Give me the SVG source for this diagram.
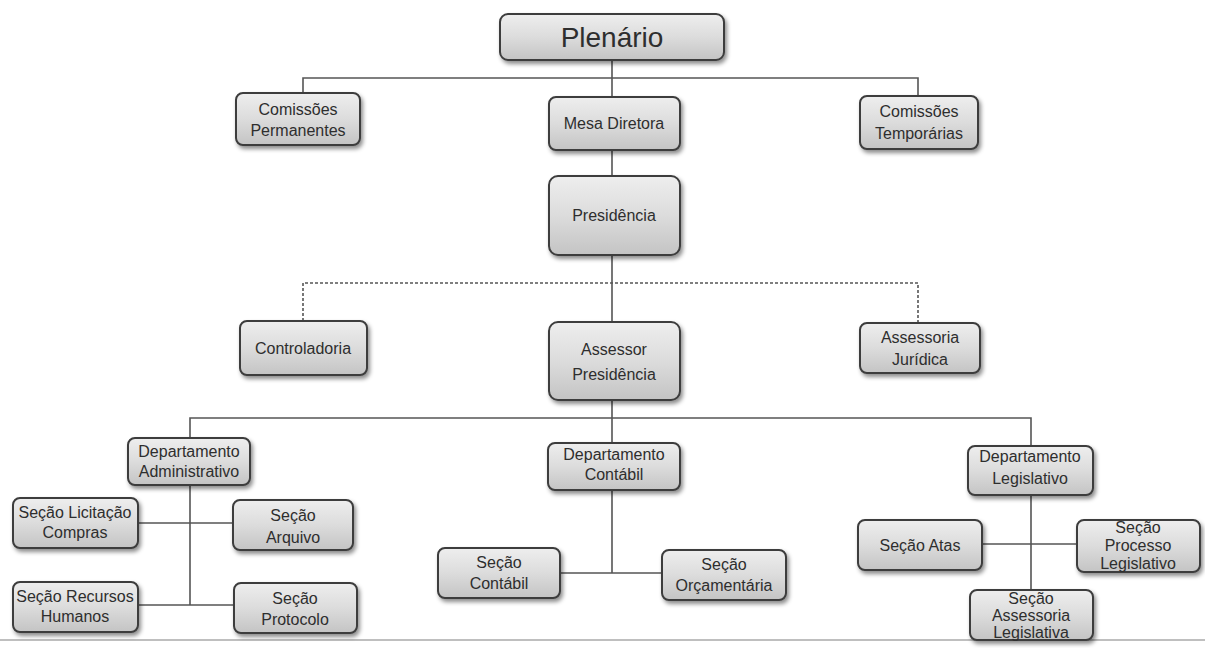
<svg xmlns="http://www.w3.org/2000/svg" width="1205" height="648" viewBox="0 0 1205 648">
<defs>
<linearGradient id="g" x1="0" y1="0" x2="0" y2="1">
<stop offset="0" stop-color="#eeeeee"/>
<stop offset="0.5" stop-color="#dcdcdc"/>
<stop offset="1" stop-color="#c4c4c4"/>
</linearGradient>
<filter id="sh" x="-10%" y="-10%" width="130%" height="140%">
<feDropShadow dx="2" dy="3" stdDeviation="2" flood-color="#000" flood-opacity="0.45"/>
</filter>
</defs>
<style>
.box{fill:url(#g);stroke:#3c3c3c;stroke-width:2;filter:url(#sh)}
.t{font-family:"Liberation Sans",Arial,sans-serif;font-size:16px;fill:#2e2e2e;text-anchor:middle}
.big{font-size:28px}
.c{fill:none;stroke:#555;stroke-width:1.6}
.d{fill:none;stroke:#555;stroke-width:1.6;stroke-dasharray:3 2}
</style>
<rect width="1205" height="648" fill="#ffffff"/>
<line x1="0" y1="640" x2="1205" y2="640" stroke="#aaa" stroke-width="1.5"/>
<g id="connectors">
<path class="c" d="M612 60V97M303 93V78H918V96"/>
<path class="c" d="M612 150V176M612 255V322"/>
<path class="d" d="M303 321V283H918V323"/>
<path class="c" d="M612 400V418M190 438V418H1031V446M612 418V443"/>
<path class="c" d="M190 485V605M138 523H233M138 605H234"/>
<path class="c" d="M612 490V573M560 573H662"/>
<path class="c" d="M1031 495V590M982 544H1077"/>
</g>
<g id="plenario"><rect class="box" x="500" y="14" width="224" height="46" rx="8"/><text class="t big" x="612" y="47">Plenário</text></g>
<g id="comissoes-permanentes"><rect class="box" x="236" y="93" width="124" height="52" rx="7"/><text class="t" x="298" y="115">Comissões</text><text class="t" x="298" y="136">Permanentes</text></g>
<g id="mesa-diretora"><rect class="box" x="549" y="97" width="131" height="53" rx="7"/><text class="t" x="614" y="129">Mesa Diretora</text></g>
<g id="comissoes-temporarias"><rect class="box" x="860" y="96" width="118" height="53" rx="7"/><text class="t" x="919" y="117">Comissões</text><text class="t" x="919" y="139">Temporárias</text></g>
<g id="presidencia"><rect class="box" x="549" y="176" width="131" height="79" rx="9"/><text class="t" x="614" y="221">Presidência</text></g>
<g id="controladoria"><rect class="box" x="240" y="321" width="127" height="54" rx="7"/><text class="t" x="303" y="354">Controladoria</text></g>
<g id="assessor-presidencia"><rect class="box" x="549" y="322" width="131" height="78" rx="9"/><text class="t" x="614" y="355">Assessor</text><text class="t" x="614" y="380">Presidência</text></g>
<g id="assessoria-juridica"><rect class="box" x="860" y="323" width="120" height="50" rx="7"/><text class="t" x="920" y="343">Assessoria</text><text class="t" x="920" y="365">Jurídica</text></g>
<g id="dept-administrativo"><rect class="box" x="128" y="438" width="122" height="47" rx="7"/><text class="t" x="189" y="457">Departamento</text><text class="t" x="189" y="477">Administrativo</text></g>
<g id="secao-licitacao"><rect class="box" x="13" y="498" width="125" height="50" rx="7"/><text class="t" x="75" y="518">Seção Licitação</text><text class="t" x="75" y="538">Compras</text></g>
<g id="secao-arquivo"><rect class="box" x="233" y="500" width="120" height="50" rx="7"/><text class="t" x="293" y="521">Seção</text><text class="t" x="293" y="543">Arquivo</text></g>
<g id="secao-rh"><rect class="box" x="13" y="582" width="125" height="50" rx="7"/><text class="t" x="75" y="602">Seção Recursos</text><text class="t" x="75" y="622">Humanos</text></g>
<g id="secao-protocolo"><rect class="box" x="234" y="583" width="123" height="50" rx="7"/><text class="t" x="295" y="604">Seção</text><text class="t" x="295" y="625">Protocolo</text></g>
<g id="dept-contabil"><rect class="box" x="548" y="443" width="132" height="47" rx="7"/><text class="t" x="614" y="460">Departamento</text><text class="t" x="614" y="480">Contábil</text></g>
<g id="secao-contabil"><rect class="box" x="438" y="548" width="122" height="50" rx="7"/><text class="t" x="499" y="568">Seção</text><text class="t" x="499" y="589">Contábil</text></g>
<g id="secao-orcamentaria"><rect class="box" x="662" y="550" width="124" height="50" rx="7"/><text class="t" x="724" y="570">Seção</text><text class="t" x="724" y="591">Orçamentária</text></g>
<g id="dept-legislativo"><rect class="box" x="968" y="446" width="125" height="49" rx="7"/><text class="t" x="1030" y="462">Departamento</text><text class="t" x="1030" y="484">Legislativo</text></g>
<g id="secao-atas"><rect class="box" x="858" y="520" width="124" height="50" rx="7"/><text class="t" x="920" y="551">Seção Atas</text></g>
<g id="secao-processo-legislativo"><rect class="box" x="1077" y="520" width="123" height="52" rx="7"/><text class="t" x="1138" y="533">Seção</text><text class="t" x="1138" y="551">Processo</text><text class="t" x="1138" y="569">Legislativo</text></g>
<g id="secao-assessoria-legislativa"><rect class="box" x="970" y="590" width="123" height="50" rx="7"/><text class="t" x="1031" y="604">Seção</text><text class="t" x="1031" y="621">Assessoria</text><text class="t" x="1031" y="638">Legislativa</text></g>
</svg>
